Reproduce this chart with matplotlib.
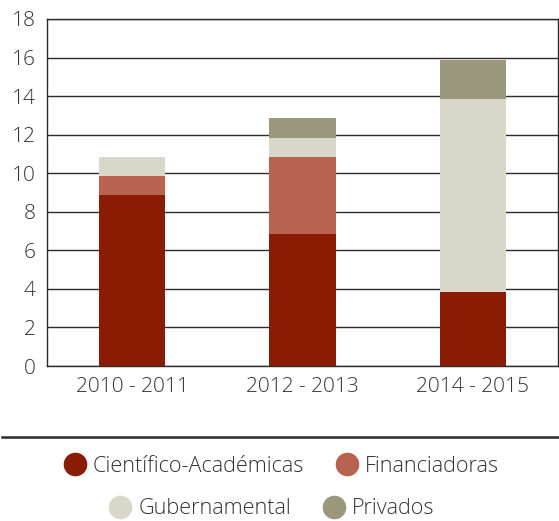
import numpy as np
import matplotlib.pyplot as plt
from matplotlib.lines import Line2D

# data
periods = ['2010 - 2011', '2012 - 2013', '2014 - 2015']
series_names = ['Científico-Académicas', 'Financiadoras', 'Gubernamental', 'Privados']
cientifico = [8.85, 6.85, 3.85]
financiadoras = [1.0, 4.0, 0.0]
gubernamental = [1.0, 1.0, 10.0]
privados = [0.0, 1.0, 2.0]

colors = ['#8b1c04', '#b86350', '#d9d7ca', '#9a977c']
text_color = '#333333'
line_color = '#2b2b2b'

plt.rcParams['font.family'] = ['Open Sans', 'DejaVu Sans']
plt.rcParams['font.weight'] = 'light'
fs = 15

fig = plt.figure(figsize=(5.59, 5.21), dpi=100)
ax = fig.add_axes([47 / 559, 1 - 366 / 521, 511 / 559, 347 / 521])

x = np.arange(len(periods))
width = 0.39
bottom = np.zeros(len(periods))
for vals, col, name in zip([cientifico, financiadoras, gubernamental, privados], colors, series_names):
    ax.bar(x, vals, width, bottom=bottom, color=col, label=name, zorder=3,
           edgecolor='none')
    bottom = bottom + np.array(vals)

ax.set_xlim(-0.5, 2.5)
ax.set_ylim(0, 18)
ax.set_yticks(np.arange(0, 19, 2))
ax.set_xticks(x)
ax.set_xticklabels(periods)
ax.yaxis.grid(True, color=line_color, linewidth=1.0, zorder=0)
ax.set_axisbelow(True)
for s in ['left', 'bottom', 'right', 'top']:
    ax.spines[s].set_color(line_color)
    ax.spines[s].set_linewidth(1.0)
ax.tick_params(length=0, labelsize=fs, colors=text_color)
ax.tick_params(axis='y', pad=8)
ax.tick_params(axis='x', pad=8)

# separator line above legend
fig.add_artist(Line2D([0.004, 1.0], [1 - 437 / 521, 1 - 437 / 521],
                      color=line_color, linewidth=1.8))

handles = [Line2D([], [], marker='o', linestyle='none', markersize=17,
                  markerfacecolor=c, markeredgecolor='none') for c in colors]
kw = dict(ncol=2, frameon=False, fontsize=15.6, handlelength=1.05,
          handletextpad=0.3, columnspacing=1.45, labelcolor=text_color,
          loc='center', borderaxespad=0)
fig.legend(handles[:2], series_names[:2], bbox_to_anchor=(281 / 559, 1 - 466 / 521), **kw)
fig.legend(handles[2:], series_names[2:], bbox_to_anchor=(271.5 / 559, 1 - 509 / 521), **kw)

fig.savefig('out.png', dpi=100)
